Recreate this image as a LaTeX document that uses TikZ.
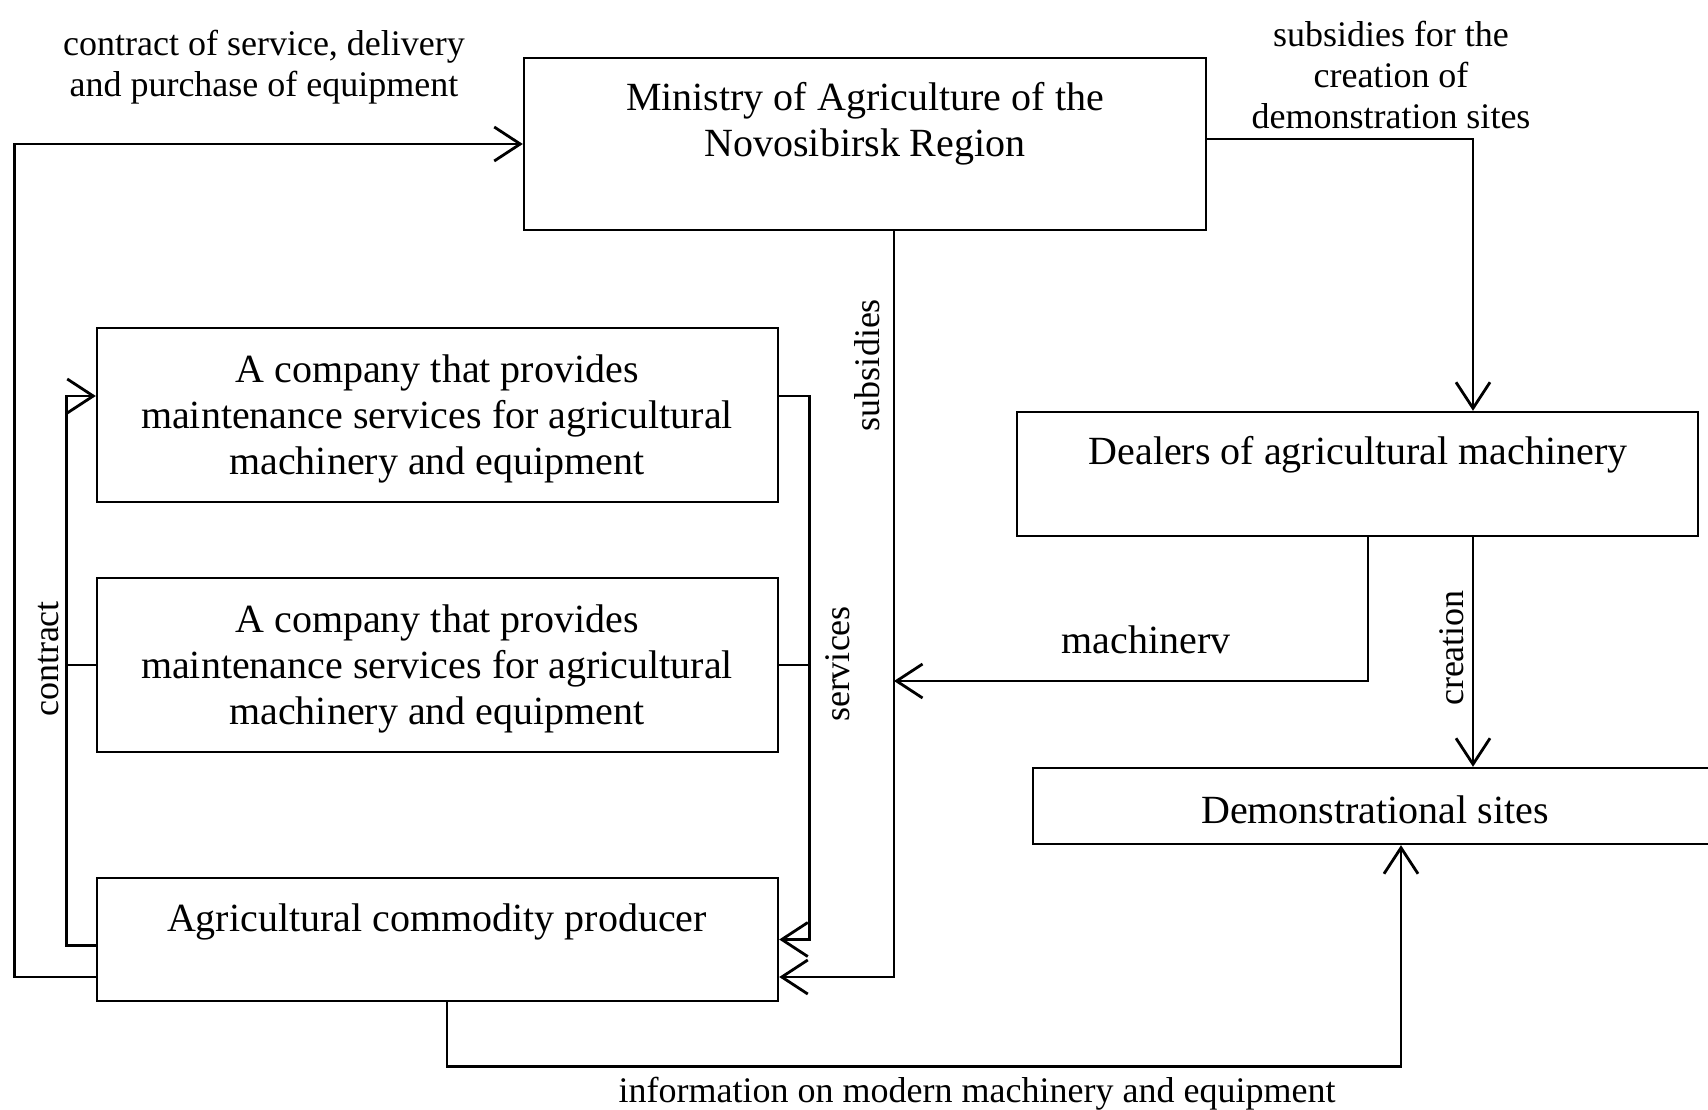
\documentclass[tikz,border=0pt]{standalone}
\usepackage{fontspec}
\setmainfont{Liberation Serif}
\usetikzlibrary{arrows.meta}
\begin{document}
\begin{tikzpicture}[x=1pt,y=-1pt,
  box/.style={draw, line width=2.4pt, rectangle, inner sep=0pt},
  btext/.style={font=\fontsize{40}{46}\selectfont, align=center, inner sep=0pt},
  ltext/.style={font=\fontsize{36}{41}\selectfont, align=center, inner sep=0pt},
  conn/.style={line width=2.8pt},
  arr/.style={conn, -{Straight Barb[length=26pt,width=34pt]}}]
\useasboundingbox (0,0) rectangle (1708,1110);
% boxes
\node[box, minimum width=682pt, minimum height=172pt] (min) at (865,144) {};
\node[box, minimum width=681pt, minimum height=124pt] (deal) at (1357.5,474) {};
\node[box, minimum width=687pt, minimum height=76pt] (demo) at (1376.5,806) {};
\node[box, minimum width=681pt, minimum height=174pt] (c1) at (437.5,415) {};
\node[box, minimum width=681pt, minimum height=174pt] (c2) at (437.5,665) {};
\node[box, minimum width=681pt, minimum height=123pt] (prod) at (437.5,939.5) {};
% box texts
\node[btext] (minT) at (865,124) {Ministry of Agriculture of the\\Novosibirsk Region};
\node[btext] (dealT) at (1358,455) {Dealers of agricultural machinery};
\node[btext] (demoT) at (1375,810) {Demonstrational sites};
\node[btext] (c1T) at (437,419) {A company that provides\\maintenance services for agricultural\\machinery and equipment};
\node[btext] (c2T) at (437,669) {A company that provides\\maintenance services for agricultural\\machinery and equipment};
\node[btext] (prodT) at (437,922) {Agricultural commodity producer};
% connectors
\draw[arr] ([yshift=-37.5pt]prod.west) -- ++(-81,0) |- (min.west);
\draw[arr] ([yshift=5pt]min.east) -| ([xshift=115.5pt]deal.north);
\draw[arr] ([xshift=115.5pt]deal.south) -- ([xshift=115.5pt]deal.south |- demo.north);
\coordinate (mj) at (894,681);
\draw[arr] ([xshift=10.5pt]deal.south) |- (mj);
\draw[arr] ([xshift=29pt]min.south) |- ([yshift=-37.5pt]prod.east);
\draw[arr] ([yshift=19pt]c1.east) -- ++(30,0) |- (prod.east);
\draw[conn] (c2.east) -- ++(30,0);
\draw[arr] ([yshift=-6pt]prod.west) -- ++(-29.5,0) |- ([yshift=19pt]c1.west);
\draw[conn] (c2.west) -- ++(-29.5,0);
\draw[arr] ([xshift=9.5pt]prod.south) -- ++(0,64) -| ([xshift=24.5pt]demo.south);
% labels
\node[ltext] (l1) at (264,67) {contract of service, delivery\\and purchase of equipment};
\node[ltext] (l2) at (1391,75) {subsidies for the\\creation of\\demonstration sites};
\node[ltext, rotate=90] (l3) at (867,365) {subsidies};
\node[ltext, font=\fontsize{40}{46}\selectfont] (l4) at (1146,640) {machinerv};
\node[ltext, rotate=90] (l5) at (1452,648) {creation};
\node[ltext, rotate=90] (l6) at (838,664) {services};
\node[ltext, rotate=90] (l7) at (49,659) {contract};
\node[ltext] (l8) at (977,1094) {information on modern machinery and equipment};
\end{tikzpicture}
\end{document}
